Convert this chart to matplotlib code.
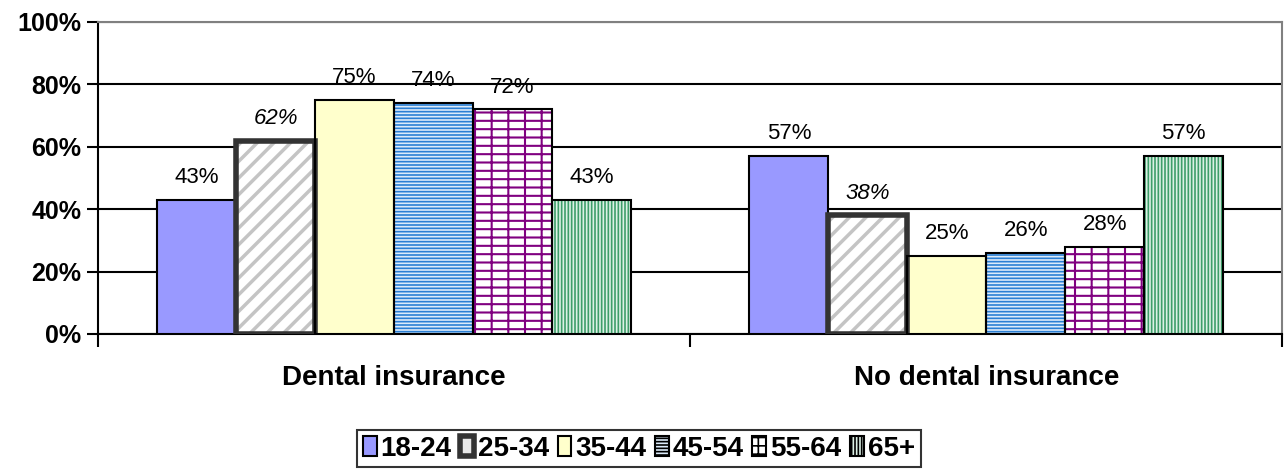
import numpy as np
import matplotlib.pyplot as plt
from matplotlib.patches import Patch

plt.rcParams['font.family'] = ['Liberation Sans', 'DejaVu Sans']
plt.rcParams['hatch.linewidth'] = 1.2

categories = ['Dental insurance', 'No dental insurance']
age_groups = ['18-24', '25-34', '35-44', '45-54', '55-64', '65+']
values = {
    '18-24': [43, 57],
    '25-34': [62, 38],
    '35-44': [75, 25],
    '45-54': [74, 26],
    '55-64': [72, 28],
    '65+': [43, 57],
}

# face, hatch colour, hatch, border colour, border width, hatch width
styles = {
    '18-24': ('#9999FF', '#9999FF', None, 'black', 1.5, 1.2),
    '25-34': ('white', '#C4C4C4', '//', '#333333', 4.0, 2.5),
    '35-44': ('#FFFFCC', '#FFFFCC', None, 'black', 1.5, 1.2),
    '45-54': ('#DCEBFA', '#2A7FD4', '-----', 'black', 1.5, 1.2),
    '55-64': ('white', '#800080', '--|', 'black', 1.5, 1.5),
    '65+': ('#DDF1E6', '#3E9E6A', '|||||', 'black', 1.5, 1.2),
}

fig = plt.figure(figsize=(12.88, 4.74), dpi=100)
ax = fig.add_axes([0.0761, 0.2954, 0.9195, 0.6582])

x = np.arange(len(categories))
w = 0.8 / len(age_groups)
for i, g in enumerate(age_groups):
    face, hcol, hatch, ecol, lw, hw = styles[g]
    pos = x - 0.4 + w * (i + 0.5)
    with plt.rc_context({'hatch.linewidth': hw}):
        ax.bar(pos, values[g], w, color=face, edgecolor=hcol, hatch=hatch, linewidth=0, zorder=3)
    ax.bar(pos, values[g], w, facecolor='none', edgecolor=ecol, linewidth=lw, zorder=4)
    for p, v in zip(pos, values[g]):
        ax.annotate(f'{v}%', (p, v), xytext=(0, 12), textcoords='offset points',
                    ha='center', va='baseline', fontsize=16,
                    style='italic' if g == '25-34' else 'normal')

ax.set_xlim(-0.5, 1.5)
ax.set_ylim(0, 100)
ax.set_yticks(range(0, 101, 20))
ax.set_yticklabels([f'{t}%' for t in range(0, 101, 20)], fontsize=18, fontweight='bold')
ax.yaxis.grid(True, color='black', linewidth=1.5, zorder=1)
ax.set_axisbelow(True)
ax.set_xticks([-0.5, 0.5, 1.5])
ax.set_xticklabels([])
ax.tick_params(axis='x', direction='out', length=9, width=1.5)
ax.tick_params(axis='y', direction='out', length=8, width=1.5, pad=4)
for xi, c in zip(x, categories):
    ax.text(xi, -0.1, c, transform=ax.get_xaxis_transform(), ha='center', va='top',
            fontsize=20, fontweight='bold')

for s in ['left', 'bottom']:
    ax.spines[s].set_linewidth(1.5)
    ax.spines[s].set_color('black')
for s in ['top', 'right']:
    ax.spines[s].set_linewidth(1.5)
    ax.spines[s].set_color('#808080')

handles = []
for g in age_groups:
    face, hcol, hatch, ecol, lw, hw = styles[g]
    if g == '25-34':
        handles.append(Patch(facecolor='#E8E8E8', edgecolor='#333333', linewidth=4))
    else:
        handles.append(Patch(facecolor=face, edgecolor='black', hatch=hatch, linewidth=1.5))
leg = fig.legend(handles, age_groups, loc='center', bbox_to_anchor=(0.496, 0.053), ncol=6,
                 frameon=True, fancybox=False, edgecolor='black',
                 prop={'weight': 'bold', 'size': 20}, handlelength=0.5, handleheight=0.7,
                 handletextpad=0.15, columnspacing=0.3, borderpad=0.2, borderaxespad=0)
leg.get_frame().set_linewidth(1.5)

fig.savefig('out.png', dpi=100)
